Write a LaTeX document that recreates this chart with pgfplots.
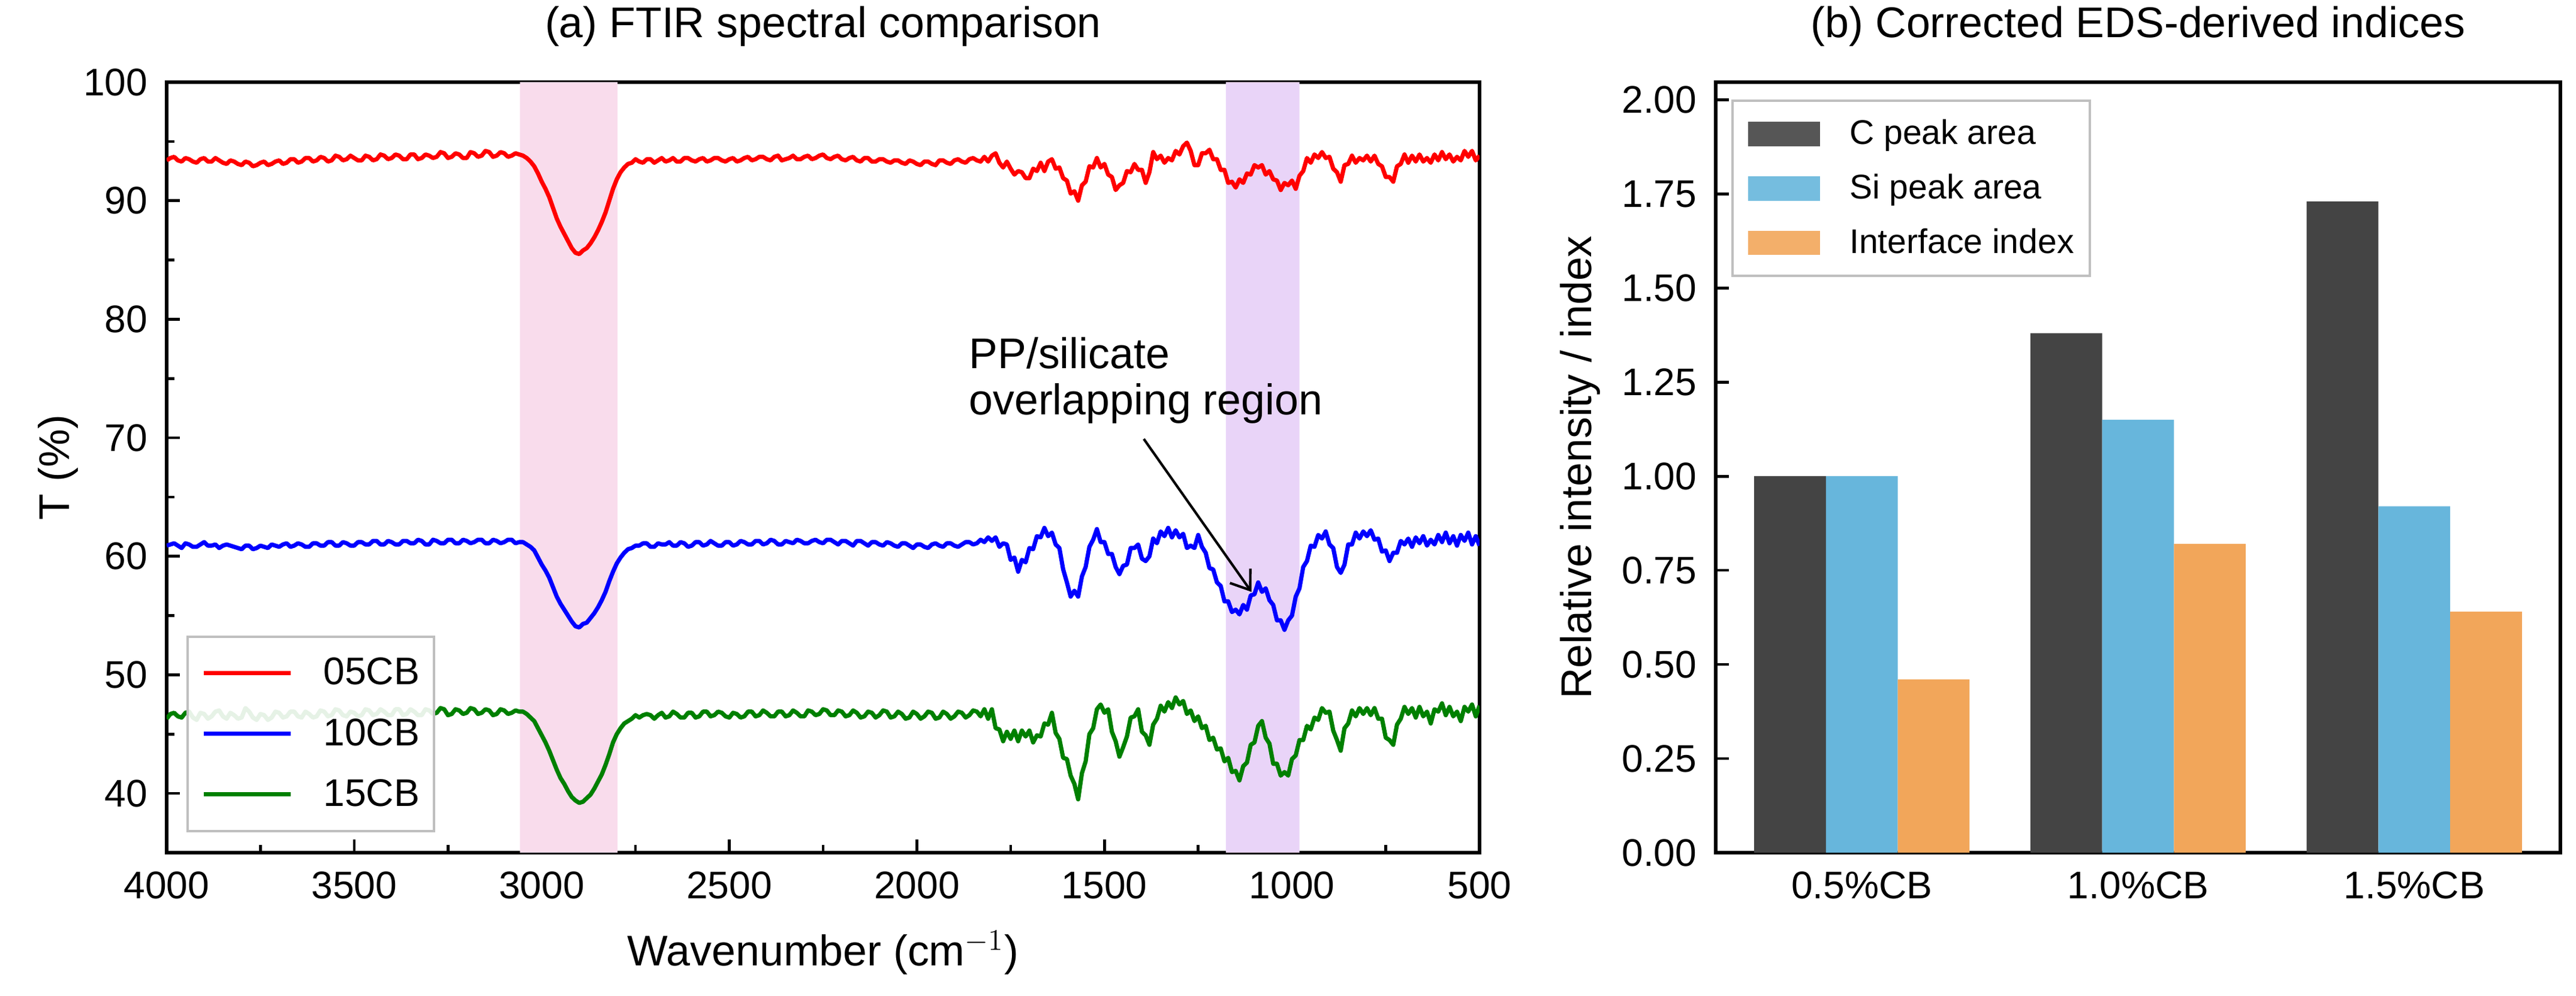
\documentclass[border=0pt]{standalone}
\usepackage{fontspec}
\setmainfont{Liberation Sans}
\usepackage{pgfplots}
\pgfplotsset{compat=1.18}
\usepackage{pgfplotstable}
\usetikzlibrary{arrows.meta}
\definecolor{pinkband}{RGB}{249,220,236}
\definecolor{purpleband}{RGB}{233,212,248}
\definecolor{cbar}{RGB}{68,68,68}
\definecolor{sibar}{RGB}{103,182,220}
\definecolor{ibar}{RGB}{242,166,90}
\newcommand\ticksize{\fontsize{15.4}{18}\selectfont}
\newcommand\labsize{\fontsize{17.2}{18.3}\selectfont}
\newcommand\legsize{\fontsize{13.7}{16}\selectfont}

\pgfplotstableread{
x r b g
4000 93.4 60.9 46.3
3990 93.6 61.0 46.7
3980 93.7 61.1 46.8
3970 93.4 60.9 46.5
3960 93.3 60.7 46.4
3950 93.6 61.1 46.8
3940 93.5 61.0 46.9
3930 93.3 60.8 46.4
3920 93.2 60.8 46.2
3910 93.5 61.0 46.8
3900 93.6 61.2 46.7
3890 93.3 60.9 46.3
3880 93.3 60.9 46.5
3870 93.6 61.0 46.9
3860 93.4 60.7 47.0
3850 93.2 60.9 46.5
3840 93.1 61.0 46.3
3830 93.4 60.9 46.8
3820 93.3 60.8 46.6
3810 93.1 60.7 46.3
3800 93.0 60.6 46.4
3790 93.3 60.9 47.2
3780 93.2 60.9 46.9
3770 92.9 60.6 46.4
3760 93.0 60.7 46.2
3750 93.2 60.9 46.7
3740 93.3 60.8 46.6
3730 93.0 60.7 46.2
3720 93.1 61.0 46.4
3710 93.3 60.9 46.9
3700 93.4 60.8 46.8
3690 93.1 61.0 46.4
3680 93.2 61.1 46.5
3670 93.5 60.8 46.9
3660 93.5 60.9 46.9
3650 93.2 61.1 46.5
3640 93.3 61.0 46.4
3630 93.6 60.8 46.9
3620 93.6 60.8 46.7
3610 93.3 61.1 46.4
3600 93.4 61.1 46.5
3590 93.7 60.9 47.0
3580 93.6 60.9 46.9
3570 93.3 61.2 46.5
3560 93.4 61.2 46.6
3550 93.8 60.9 47.1
3540 93.7 60.9 47.0
3530 93.4 61.2 46.6
3520 93.5 61.1 46.5
3510 93.8 60.9 46.9
3500 93.6 60.9 46.8
3490 93.4 61.2 46.5
3480 93.4 61.2 46.6
3470 93.8 61.0 47.1
3460 93.7 61.0 47.0
3450 93.4 61.3 46.6
3440 93.5 61.3 46.7
3430 93.9 61.0 47.1
3420 93.8 61.0 46.9
3410 93.5 61.3 46.6
3400 93.6 61.2 46.6
3390 93.9 61.0 47.1
3380 93.8 61.0 47.1
3370 93.5 61.3 46.6
3360 93.5 61.3 46.7
3350 93.9 61.1 47.1
3340 93.9 61.1 46.9
3330 93.5 61.4 46.6
3320 93.6 61.3 46.6
3310 93.9 61.0 47.1
3300 93.8 61.0 47.0
3290 93.6 61.4 46.7
3280 93.7 61.3 46.8
3270 94.1 61.1 47.2
3260 94.0 61.1 47.1
3250 93.6 61.4 46.6
3240 93.7 61.4 46.7
3230 94.0 61.1 47.1
3220 93.9 61.1 47.0
3210 93.6 61.4 46.7
3200 93.6 61.3 46.8
3190 94.1 61.1 47.2
3180 94.0 61.2 47.1
3170 93.7 61.4 46.7
3160 93.8 61.4 46.8
3150 94.2 61.1 47.1
3140 94.1 61.1 47.0
3130 93.7 61.4 46.6
3120 93.8 61.3 46.7
3110 94.1 61.1 47.1
3100 94.0 61.2 47.0
3090 93.7 61.4 46.7
3080 93.8 61.4 46.8
3070 94.0 61.1 47.0
3060 93.9 61.2 46.9
3050 93.8 61.2 46.9
3040 93.6 61.0 46.7
3030 93.3 60.8 46.4
3020 92.9 60.5 46.1
3010 92.3 59.9 45.5
3000 91.6 59.3 44.9
2990 91.0 58.8 44.3
2980 90.3 58.2 43.6
2970 89.4 57.4 42.8
2960 88.5 56.6 42.0
2950 87.8 56.0 41.3
2940 87.2 55.5 40.8
2930 86.6 55.0 40.2
2920 86.0 54.5 39.7
2910 85.6 54.1 39.4
2900 85.5 54.0 39.2
2890 85.8 54.3 39.3
2880 86.0 54.4 39.6
2870 86.4 54.8 39.9
2860 86.9 55.2 40.4
2850 87.5 55.7 41.0
2840 88.2 56.3 41.6
2830 89.0 57.0 42.4
2820 90.0 57.9 43.3
2810 91.0 58.7 44.3
2800 91.8 59.4 45.0
2790 92.4 59.9 45.5
2780 92.8 60.3 45.9
2770 93.1 60.6 46.1
2760 93.2 60.7 46.3
2750 93.5 60.9 46.6
2740 93.3 60.9 46.4
2730 93.2 61.1 46.6
2720 93.5 61.1 46.7
2710 93.5 60.8 46.6
2700 93.2 60.8 46.3
2690 93.4 61.1 46.6
2680 93.6 61.0 46.8
2670 93.3 61.0 46.4
2660 93.4 61.2 46.5
2650 93.6 60.9 46.9
2640 93.3 60.9 46.7
2630 93.3 61.2 46.4
2620 93.6 61.1 46.4
2610 93.6 60.8 46.8
2600 93.4 60.9 46.8
2590 93.3 61.2 46.4
2580 93.5 61.2 46.5
2570 93.6 60.9 46.9
2560 93.3 61.0 46.9
2550 93.4 61.3 46.5
2540 93.6 61.1 46.6
2530 93.6 60.9 46.9
2520 93.4 60.9 46.8
2510 93.3 61.2 46.5
2500 93.5 61.2 46.4
2490 93.6 60.9 46.8
2480 93.3 61.0 46.7
2470 93.4 61.3 46.4
2460 93.6 61.2 46.5
2450 93.7 61.0 46.9
2440 93.4 61.0 46.9
2430 93.5 61.3 46.5
2420 93.7 61.3 46.6
2410 93.7 61.0 47.0
2400 93.5 61.1 46.8
2390 93.4 61.4 46.5
2380 93.7 61.3 46.5
2370 93.8 61.0 46.9
2360 93.4 61.0 46.9
2350 93.5 61.3 46.5
2340 93.6 61.2 46.6
2330 93.8 61.1 47.0
2320 93.5 61.4 46.8
2310 93.5 61.3 46.5
2300 93.7 61.1 46.5
2290 93.8 61.1 47.0
2280 93.5 61.3 46.9
2270 93.6 61.4 46.6
2260 93.8 61.2 46.7
2250 93.9 61.1 47.1
2240 93.6 61.4 47.0
2230 93.5 61.4 46.6
2220 93.7 61.2 46.6
2210 93.8 61.0 47.0
2200 93.5 61.3 46.9
2190 93.4 61.3 46.5
2180 93.6 61.1 46.6
2170 93.7 60.9 47.0
2160 93.4 61.3 46.8
2150 93.3 61.3 46.4
2140 93.6 61.1 46.5
2130 93.6 60.9 46.9
2120 93.3 61.2 46.8
2110 93.3 61.2 46.4
2100 93.5 61.0 46.6
2090 93.5 60.9 47.0
2080 93.3 61.2 46.9
2070 93.2 61.1 46.4
2060 93.4 60.9 46.5
2050 93.4 60.8 46.9
2040 93.2 61.1 46.7
2030 93.1 61.1 46.3
2020 93.4 60.9 46.4
2010 93.3 60.7 46.9
2000 93.1 61.0 46.7
1990 93.0 61.0 46.3
1980 93.3 60.8 46.5
1970 93.3 60.7 46.9
1960 93.1 61.0 46.8
1950 93.0 61.1 46.3
1940 93.4 60.9 46.4
1930 93.4 60.8 46.9
1920 93.2 61.1 46.7
1910 93.1 61.1 46.3
1900 93.4 60.9 46.5
1890 93.5 60.8 46.9
1880 93.3 61.0 46.8
1870 93.2 61.2 46.4
1860 93.5 61.2 46.6
1850 93.6 61.0 47.0
1840 93.4 61.1 46.9
1830 93.3 61.4 46.5
1820 93.7 61.2 47.1
1810 93.3 61.6 46.3
1800 93.8 61.3 47.1
1790 94.0 61.6 45.5
1780 93.2 60.8 45.4
1770 92.8 61.1 44.4
1760 93.3 61.0 45.2
1750 92.7 59.7 44.6
1740 92.2 59.9 45.3
1730 92.5 58.7 44.4
1720 92.4 59.7 45.3
1710 91.9 59.5 44.8
1700 91.9 60.7 45.3
1690 92.7 60.6 44.3
1680 92.5 61.7 44.9
1670 93.2 61.6 44.8
1660 92.5 62.4 45.9
1650 93.3 61.7 45.8
1640 93.5 62.0 46.8
1630 92.7 61.0 45.1
1620 92.8 60.7 44.6
1610 91.9 58.9 43.0
1600 91.7 57.8 42.9
1590 90.6 56.6 41.5
1580 90.8 57.1 40.8
1570 90.0 56.6 39.5
1560 91.3 58.3 41.7
1550 91.6 59.1 42.7
1540 92.9 60.8 45.0
1530 92.8 61.4 45.5
1520 93.6 62.3 47.1
1510 92.8 61.2 47.5
1500 93.1 61.2 46.8
1490 92.2 60.2 47.1
1480 92.0 60.2 45.2
1470 90.9 59.1 44.4
1460 91.3 58.5 43.1
1450 91.5 59.2 43.9
1440 92.5 59.3 44.8
1430 92.4 60.7 46.4
1420 93.1 60.7 46.5
1410 92.6 61.0 47.1
1400 92.6 59.8 45.2
1390 91.5 59.6 44.9
1380 92.4 60.0 44.1
1370 94.1 61.5 45.8
1360 93.5 61.1 46.3
1350 93.8 62.1 47.4
1340 93.2 61.7 46.9
1330 93.6 62.4 47.7
1320 93.4 61.6 47.2
1310 94.2 62.2 48.1
1300 93.9 61.6 47.5
1290 94.6 61.9 47.8
1280 94.9 60.7 46.7
1270 94.2 60.9 47.0
1260 93.0 60.7 46.1
1250 93.0 61.8 46.5
1240 94.0 60.8 45.5
1230 94.0 60.3 45.7
1220 94.3 59.0 44.5
1210 93.5 58.9 44.7
1200 93.5 57.8 43.7
1190 92.6 57.5 43.8
1180 92.6 56.2 42.7
1170 91.5 56.2 43.0
1160 91.6 55.3 41.8
1150 91.1 55.5 41.9
1140 91.8 55.1 41.1
1130 91.5 55.9 42.3
1120 92.3 55.5 42.6
1110 92.2 56.7 44.1
1100 93.0 56.8 44.3
1090 92.8 57.8 45.7
1080 93.0 57.0 46.1
1070 92.2 57.3 44.7
1060 92.5 56.3 44.2
1050 91.8 55.9 42.5
1040 91.7 54.6 42.5
1030 90.9 54.6 41.5
1020 91.5 53.8 41.8
1010 91.3 54.6 41.5
1000 91.7 55.0 42.9
990 91.0 56.6 43.2
980 92.1 57.3 44.5
970 92.5 59.1 44.5
960 93.6 59.6 45.7
950 93.2 60.9 45.4
940 93.9 60.8 46.4
930 93.6 61.8 46.2
920 94.1 61.5 47.2
910 93.6 62.1 46.8
900 93.7 61.0 46.9
890 92.7 60.7 45.3
880 92.4 59.1 44.5
870 91.6 58.6 43.6
860 93.0 59.3 45.5
850 93.1 61.0 45.9
840 93.8 61.0 47.0
830 93.2 62.0 46.5
820 93.6 61.5 47.2
810 93.4 62.1 46.7
800 93.8 61.7 47.2
790 93.3 62.2 46.6
780 93.8 61.4 47.2
770 93.1 61.5 46.3
760 92.9 60.4 46.3
750 92.0 60.5 44.7
740 92.0 59.6 44.5
730 91.6 60.3 44.1
720 92.9 60.3 45.8
710 93.1 61.3 46.3
700 93.9 61.0 47.3
690 93.2 61.5 46.7
680 93.8 60.8 47.2
670 93.3 61.6 46.4
660 93.9 61.1 47.3
650 93.3 61.7 46.5
640 93.6 60.9 46.9
630 93.2 61.4 45.9
620 93.9 61.0 47.1
610 93.4 61.8 46.9
600 94.1 61.2 47.6
590 93.5 62.0 46.6
580 93.9 61.1 47.3
570 93.3 61.7 46.5
560 93.7 60.9 46.9
550 93.4 61.8 46.1
540 94.2 61.3 47.3
530 93.7 62.0 46.9
520 94.2 61.0 47.5
510 93.4 61.7 46.5
500 93.8 60.9 47.4
}\spectra

\pgfplotstableread{
pos c si ii
0 1.00 1.00 0.46
1 1.38 1.15 0.82
2 1.73 0.92 0.64
}\eds

\pgfplotsset{common/.style={
  scale only axis, anchor=south west,
  axis line style={line width=1.3pt},
  tick align=inside, xtick pos=bottom, ytick pos=left,
  major tick length=5.3pt, minor tick length=3.1pt,
  every tick/.style={black, line width=1.1pt},
  tick label style={font=\ticksize},
  xticklabel style={anchor=north, inner sep=0pt, yshift=-7.4pt},
  yticklabel style={anchor=east, inner sep=0pt, xshift=-7.4pt},
  label style={font=\labsize},
  title style={font=\labsize, at={(axis description cs:0.5,1)}, anchor=base, yshift=11.8pt},
  /pgf/number format/assume math mode=true,
  /pgf/number format/1000 sep={},
}}

\begin{document}
\begin{tikzpicture}
\useasboundingbox (0,0) rectangle (1031.28pt,398.64pt);
\begin{axis}[common,
  at={(66.72pt,57.36pt)}, width=525.6pt, height=308.4pt,
  x dir=reverse, xmin=500, xmax=4000, ymin=35, ymax=100,
  xtick={500,1000,...,4000}, minor x tick num=1,
  ytick={40,50,...,100}, minor y tick num=1,
  title={(a) FTIR spectral comparison},
  xlabel={Wavenumber (cm$^{-1}$)},
  ylabel={T (\%)},
  xlabel style={at={(axis description cs:0.5,-0.147)}, anchor=base},
  ylabel style={at={(axis description cs:-0.074,0.5)}, anchor=base},
  legend style={at={(axis description cs:0.015,0.0266)}, anchor=south west,
    draw=black!25, line width=1pt, fill=white, fill opacity=0.9, text opacity=1,
    inner xsep=5.8pt, inner ysep=8.5pt, row sep=12pt, font=\ticksize,
    cells={anchor=west}, nodes={inner sep=0pt},
    /tikz/every odd column/.append style={column sep=12.4pt}},
  legend image code/.code={\draw[#1, line width=1.6pt] (0pt,0pt) -- (34.6pt,0pt);},
]
\addplot[fill=pinkband, draw=none, forget plot] coordinates {(3058,35) (3058,100) (2798,100) (2798,35)} \closedcycle;
\addplot[fill=purpleband, draw=none, forget plot] coordinates {(1176,35) (1176,100) (980,100) (980,35)} \closedcycle;
\addplot[red, line width=1.7pt, line join=round] table[x=x, y=r] {\spectra};
\addlegendentry{05CB}
\addplot[blue, line width=1.7pt, line join=round] table[x=x, y=b] {\spectra};
\addlegendentry{10CB}
\addplot[green!50!black, line width=1.7pt, line join=round] table[x=x, y=g] {\spectra};
\addlegendentry{15CB}
\node[anchor=north west, align=left, inner sep=0pt, font=\labsize] at (axis cs:1862,78.5) {PP/silicate\\overlapping region};
\draw[line width=1pt, -{Straight Barb[length=7pt,width=10pt]}] (axis cs:1395,69.9) -- (axis cs:1108,57.0);
\end{axis}

\begin{axis}[common,
  at={(686.88pt,57.36pt)}, width=338.16pt, height=308.4pt,
  xmin=-0.529, xmax=2.529, ymin=0, ymax=2.047,
  xtick={0,1,2}, xticklabels={0.5\%CB, 1.0\%CB, 1.5\%CB},
  ytick={0,0.25,0.5,0.75,1,1.25,1.5,1.75,2},
  yticklabel style={/pgf/number format/.cd, fixed, fixed zerofill, precision=2},
  title={(b) Corrected EDS-derived indices},
  ylabel={Relative intensity / index},
  ylabel style={at={(axis description cs:-0.1476,0.5)}, anchor=base},
  legend style={at={(axis description cs:0.01845,0.9774)}, anchor=north west,
    draw=black!25, line width=1pt, fill=white, fill opacity=0.9, text opacity=1,
    inner xsep=6.24pt, inner ysep=7.5pt, row sep=10.4pt, font=\legsize,
    cells={anchor=west}, nodes={inner sep=0pt},
    /tikz/every odd column/.append style={column sep=11.8pt}},
]
\addplot[ybar, bar width=0.26, bar shift=-0.26, fill=cbar, draw=none,
  legend image code/.code={\fill[cbar] (0pt,-4.9pt) rectangle (28.8pt,4.9pt);}] table[x=pos, y=c] {\eds};
\addlegendentry{C peak area}
\addplot[ybar, bar width=0.26, bar shift=0, fill=sibar, draw=none,
  legend image code/.code={\fill[sibar] (0pt,-4.9pt) rectangle (28.8pt,4.9pt);}] table[x=pos, y=si] {\eds};
\addlegendentry{Si peak area}
\addplot[ybar, bar width=0.26, bar shift=0.26, fill=ibar, draw=none,
  legend image code/.code={\fill[ibar] (0pt,-4.9pt) rectangle (28.8pt,4.9pt);}] table[x=pos, y=ii] {\eds};
\addlegendentry{Interface index}
\end{axis}
\end{tikzpicture}
\end{document}
